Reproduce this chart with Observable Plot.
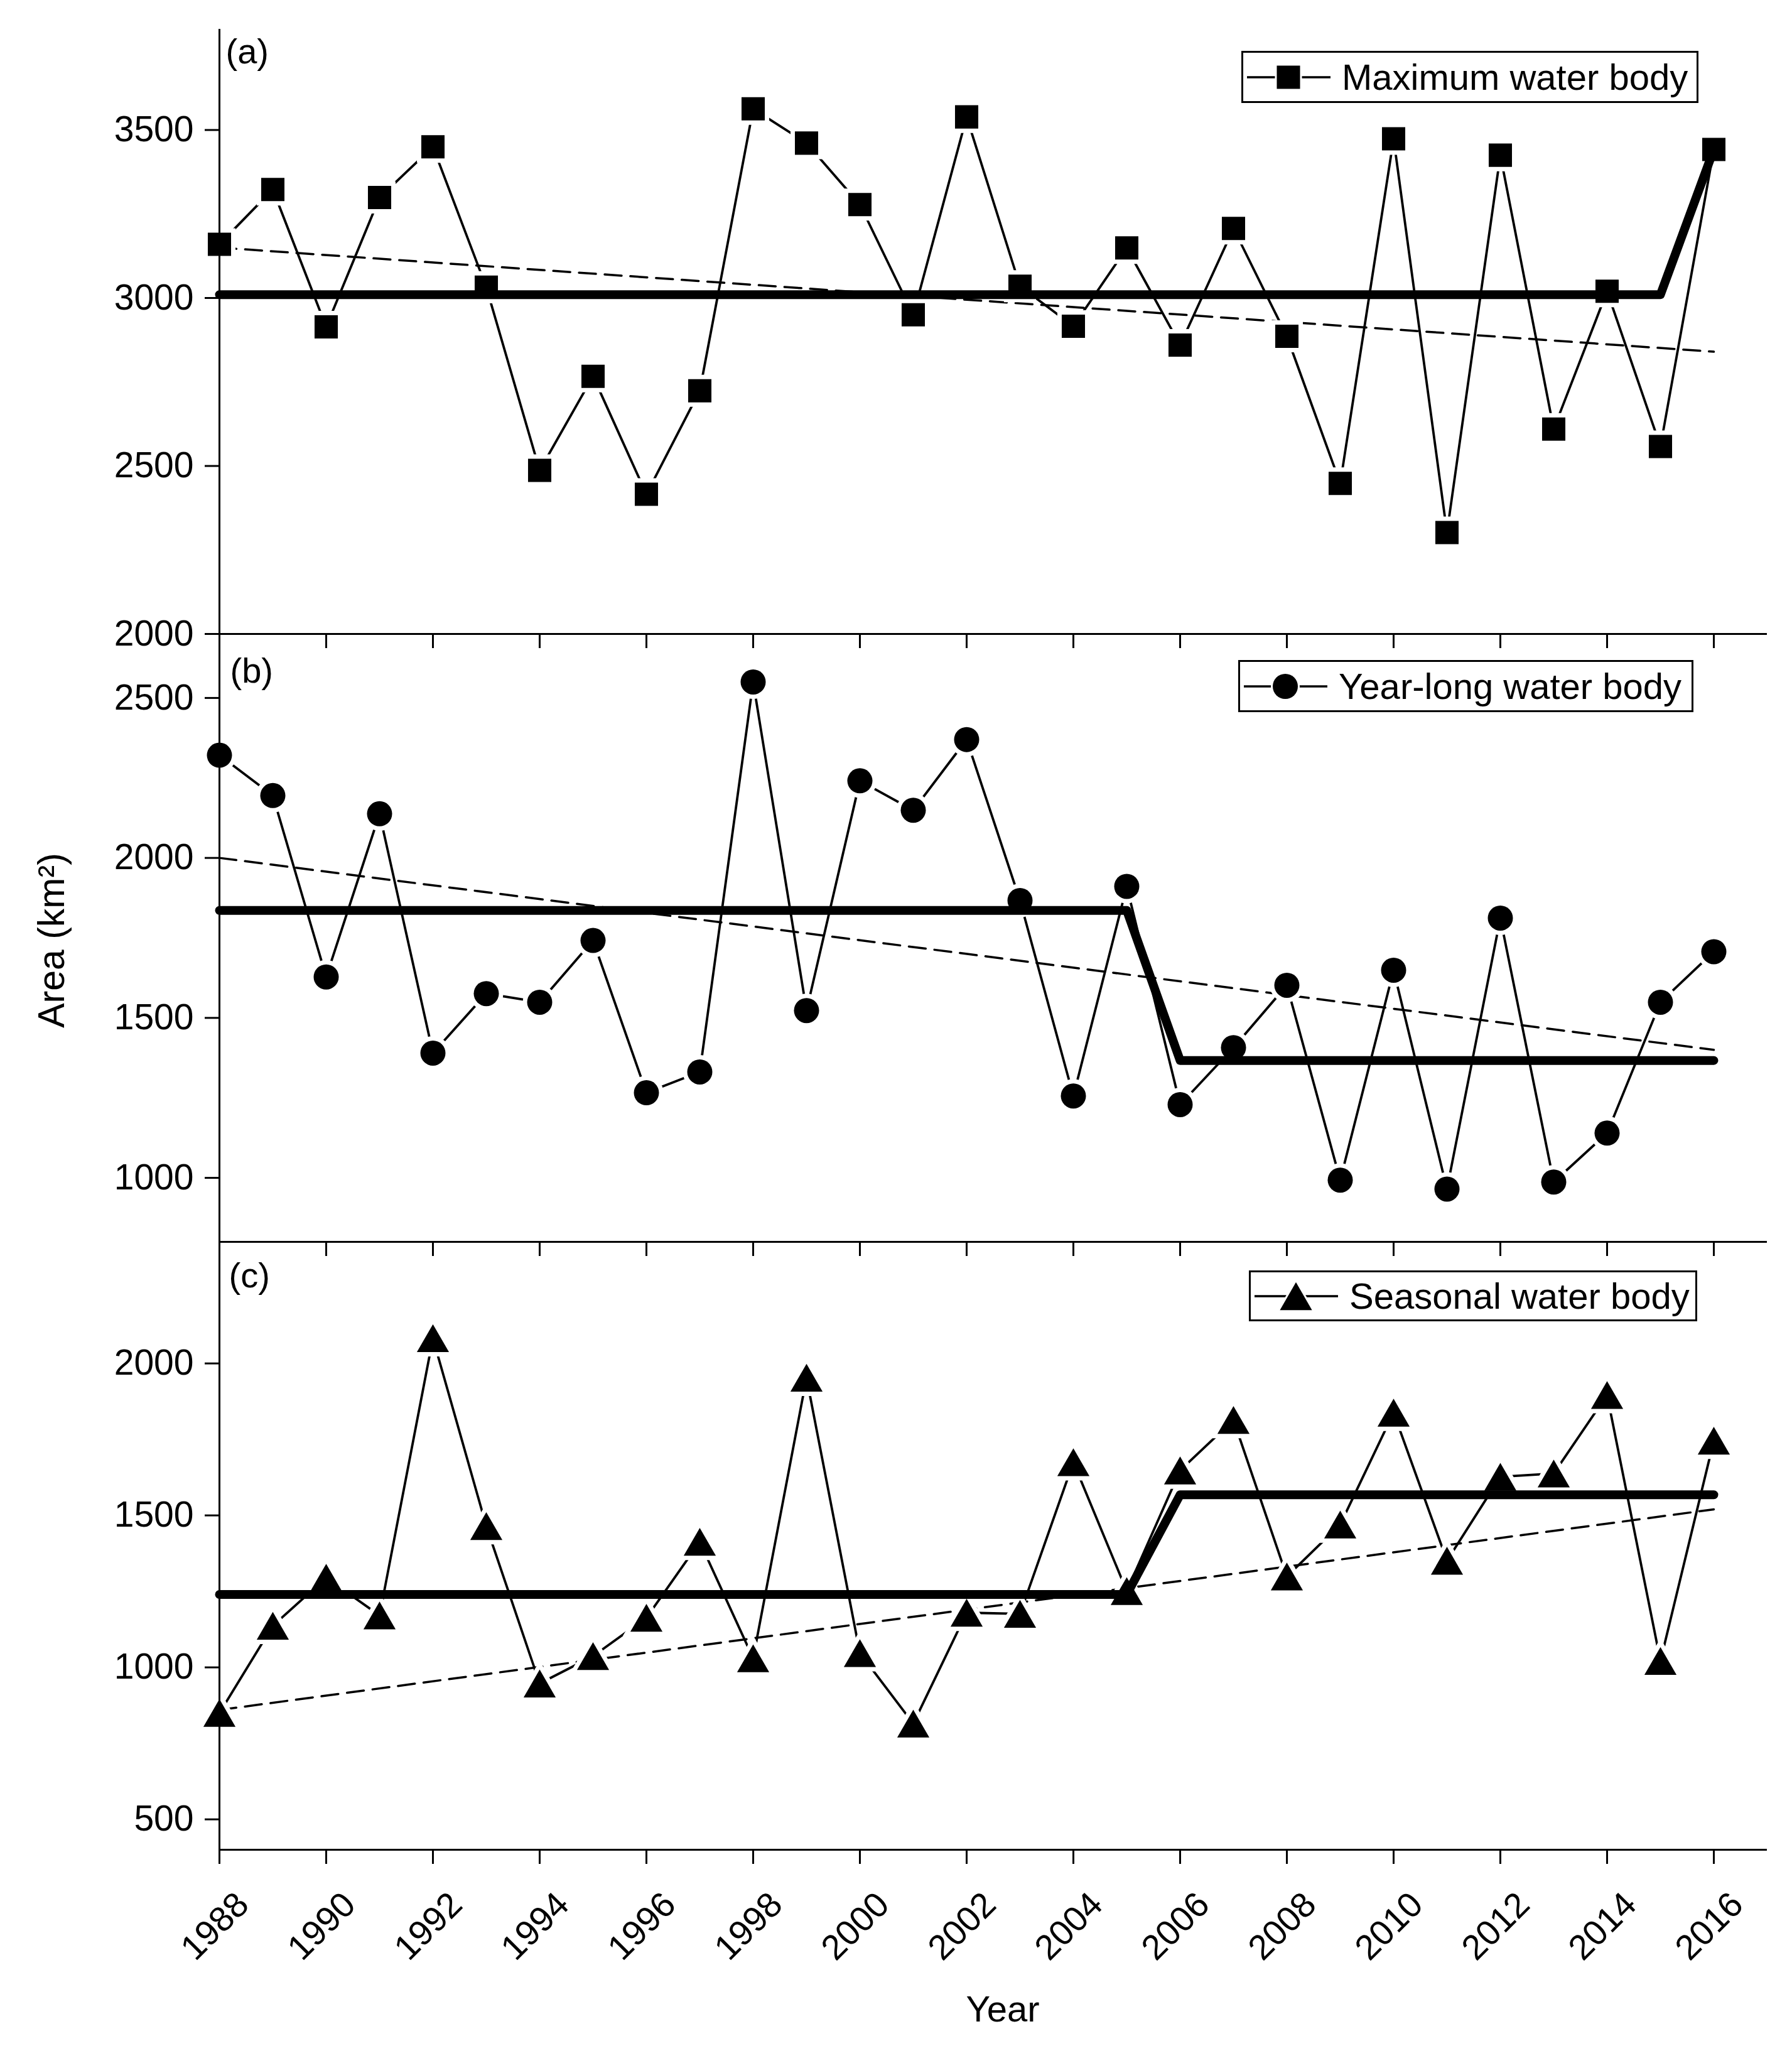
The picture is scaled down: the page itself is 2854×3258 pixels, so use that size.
<!DOCTYPE html>
<html><head><meta charset="utf-8">
<script src="https://cdn.jsdelivr.net/npm/d3@7"></script>
<script src="https://cdn.jsdelivr.net/npm/@observablehq/plot@0.6"></script>
<style>
html, body {margin:0; padding:0; background:#fff;}
#page {position:relative; width:2854px; height:3258px; overflow:hidden; font-family:"Liberation Sans", Arial, sans-serif; background:#fff;}
.panel {position:absolute; left:0;}
.panel svg {overflow: visible;}
.legend {position:absolute; box-sizing:border-box; border:3px solid #000; background:#fff; display:flex; align-items:center; font-size:58px; color:#000; white-space:nowrap;}
.legend svg {flex:none; margin-left:6px; margin-right:18px; overflow:visible;}
</style></head>
<body><div id="page"></div>
<script>
// ---- data ----
const years = [1988,1989,1990,1991,1992,1993,1994,1995,1996,1997,1998,1999,2000,2001,2002,2003,2004,2005,2006,2007,2008,2009,2010,2011,2012,2013,2014,2015,2016];
const tickYears = [1988,1990,1992,1994,1996,1998,2000,2002,2004,2006,2008,2010,2012,2014,2016];
const maxWater = [3160,3323,2914,3299,3450,3032,2487,2767,2416,2724,3563,3461,3278,2950,3539,3035,2916,3149,2860,3207,2886,2448,3474,2302,3425,2610,3020,2558,3442];
const yearLong = [2321,2195,1628,2138,1390,1576,1549,1742,1266,1331,2550,1523,2241,2149,2370,1867,1256,1911,1229,1407,1602,993,1649,965,1812,987,1140,1549,1707];
const seasonal = [850,1137,1295,1171,2083,1465,947,1037,1163,1413,1030,1953,1047,815,1180,1176,1675,1251,1648,1814,1299,1470,1838,1351,1627,1638,1896,1021,1746];
// change-point (regime) lines
const maxStepYears = [1988, 2015, 2016];
const maxStepValues = [3010, 3010, 3442];
const longStepYears = [1988, 2005, 2006, 2016];
const longStepValues = [1836, 1836, 1367, 1367];
const seasStepYears = [1988, 2005, 2006, 2016];
const seasStepValues = [1240, 1240, 1568, 1568];
// linear trend lines (end points)
const trendYears = [1988, 2016];
const maxTrend = [3150, 2840];
const longTrend = [2000, 1400];
const seasTrend = [860, 1520];
// axes
const xDomain = [1988, 2017];
const yDomainA = [2000, 3800], yTicksA = [2000, 2500, 3000, 3500];
const yDomainB = [800, 2700],  yTicksB = [1000, 1500, 2000, 2500];
const yDomainC = [400, 2400],  yTicksC = [500, 1000, 1500, 2000];
const seriesLabels = ["Maximum water body", "Year-long water body", "Seasonal water body"];
const panelTags = ["(a)", "(b)", "(c)"];
const xTitle = "Year";
const yTitle = "Area (km\u00B2)";

// ---- helpers ----
const FONT = "'Liberation Sans', Arial, sans-serif";
const toRows = (xs, ys) => xs.map((year, i) => ({year, value: ys[i]}));
const triangleUp = {draw(ctx, size) {
  const s = Math.sqrt(size * 4 / Math.sqrt(3));
  const h = s * Math.sqrt(3) / 2;
  ctx.moveTo(0, -h / 2); ctx.lineTo(s / 2, h / 2); ctx.lineTo(-s / 2, h / 2); ctx.closePath();
}};
const page = document.getElementById("page");

function panel(o) {
  const marks = [
    Plot.line(o.trend, {x: "year", y: "value", stroke: "#000", strokeWidth: 3.5, strokeDasharray: "27,14"}),
    Plot.line(o.rows, {x: "year", y: "value", stroke: "#000", strokeWidth: 3.8}),
    // white gap around the symbols (cuts the thin and dashed lines)
    Plot.dot(o.rows, {x: "year", y: "value", symbol: o.symbol, r: o.r, fill: "#fff", stroke: "#fff", strokeWidth: 14}),
    Plot.line(o.step, {x: "year", y: "value", stroke: "#000", strokeWidth: 14, strokeLinecap: "round", strokeLinejoin: "round"}),
    Plot.dot(o.rows, {x: "year", y: "value", symbol: o.symbol, r: o.r, fill: "#000", stroke: "none"}),
    Plot.ruleX([xDomain[0]], {stroke: "#000", strokeWidth: 3}),
    Plot.ruleY([o.yDomain[0]], {stroke: "#000", strokeWidth: 3}),
    Plot.axisY({ticks: o.yTicks, tickSize: 23, tickPadding: 18, tickFormat: d => String(d), strokeWidth: 3, fontSize: 57, label: null}),
    Plot.axisX({ticks: tickYears, tickSize: 23, strokeWidth: 3, fill: "none", label: null}),
    Plot.text([o.tag], {frameAnchor: "top-left", dx: o.tagDx, dy: o.tagDy, lineAnchor: "top", textAnchor: "start", fontSize: 56})
  ];
  if (o.yLabel) {
    marks.push(Plot.text([o.yLabel], {frameAnchor: "left", dx: -266, dy: 4, rotate: -90, textAnchor: "middle", lineAnchor: "middle", fontSize: 59}));
  }
  if (o.bottom) {
    marks.push(Plot.axisX({ticks: tickYears, tickSize: 0, tickPadding: 78, tickRotate: -45, dx: 37,
      tickFormat: d => String(d), fontSize: 56, label: null}));
    marks.push(Plot.text([xTitle], {frameAnchor: "bottom", dx: 15, dy: 273, lineAnchor: "bottom", textAnchor: "middle", fontSize: 58}));
  }
  const svg = Plot.plot({
    width: 2854, height: o.height,
    marginLeft: 349, marginRight: 40, marginTop: o.marginTop, marginBottom: o.marginBottom,
    x: {domain: xDomain},
    y: {domain: o.yDomain},
    style: {fontFamily: FONT, fontSize: "56px", background: "transparent", overflow: "visible", color: "#000"},
    marks
  });
  const wrap = document.createElement("div");
  wrap.className = "panel";
  wrap.style.top = o.top + "px";
  wrap.appendChild(svg);
  page.appendChild(wrap);
}

function legend(text, sym, r, box) {
  const div = document.createElement("div");
  div.className = "legend";
  div.style.left = box[0] + "px"; div.style.top = box[1] + "px";
  div.style.width = box[2] + "px"; div.style.height = box[3] + "px";
  const path = d3.symbol().type(sym).size(r * r * Math.PI)();
  div.innerHTML = `<svg width="133" height="60" viewBox="0 -30 133 60"><line x1="0" x2="133" y1="0" y2="0" stroke="#000" stroke-width="3.5"/><path d="${path}" transform="translate(66,0)" fill="#000" stroke="#fff" stroke-width="6" paint-order="stroke"/></svg>`;
  const span = document.createElement("span");
  span.textContent = text;
  div.appendChild(span);
  page.appendChild(div);
}

panel({rows: toRows(years, maxWater), step: toRows(maxStepYears, maxStepValues), trend: toRows(trendYears, maxTrend),
  symbol: "square", r: 20.9, yDomain: yDomainA, yTicks: yTicksA, top: 0, height: 1040, marginTop: 46, marginBottom: 31,
  tag: panelTags[0], tagDx: 10, tagDy: 15});
panel({rows: toRows(years, yearLong), step: toRows(longStepYears, longStepValues), trend: toRows(trendYears, longTrend),
  symbol: "circle", r: 20, yDomain: yDomainB, yTicks: yTicksB, top: 1009, height: 1000, marginTop: 0, marginBottom: 32,
  tag: panelTags[1], tagDx: 17, tagDy: 38, yLabel: yTitle});
panel({rows: toRows(years, seasonal), step: toRows(seasStepYears, seasStepValues), trend: toRows(trendYears, seasTrend),
  symbol: triangleUp, r: 19, yDomain: yDomainC, yTicks: yTicksC, top: 1977, height: 1281, marginTop: 0, marginBottom: 313,
  tag: panelTags[2], tagDx: 15, tagDy: 33, bottom: true});

legend(seriesLabels[0], d3.symbolSquare, 20.9, [1977, 81, 728, 83]);
legend(seriesLabels[1], d3.symbolCircle, 20, [1972, 1051, 725, 83]);
legend(seriesLabels[2], triangleUp, 19, [1989, 2023, 714, 81]);
</script></body></html>
